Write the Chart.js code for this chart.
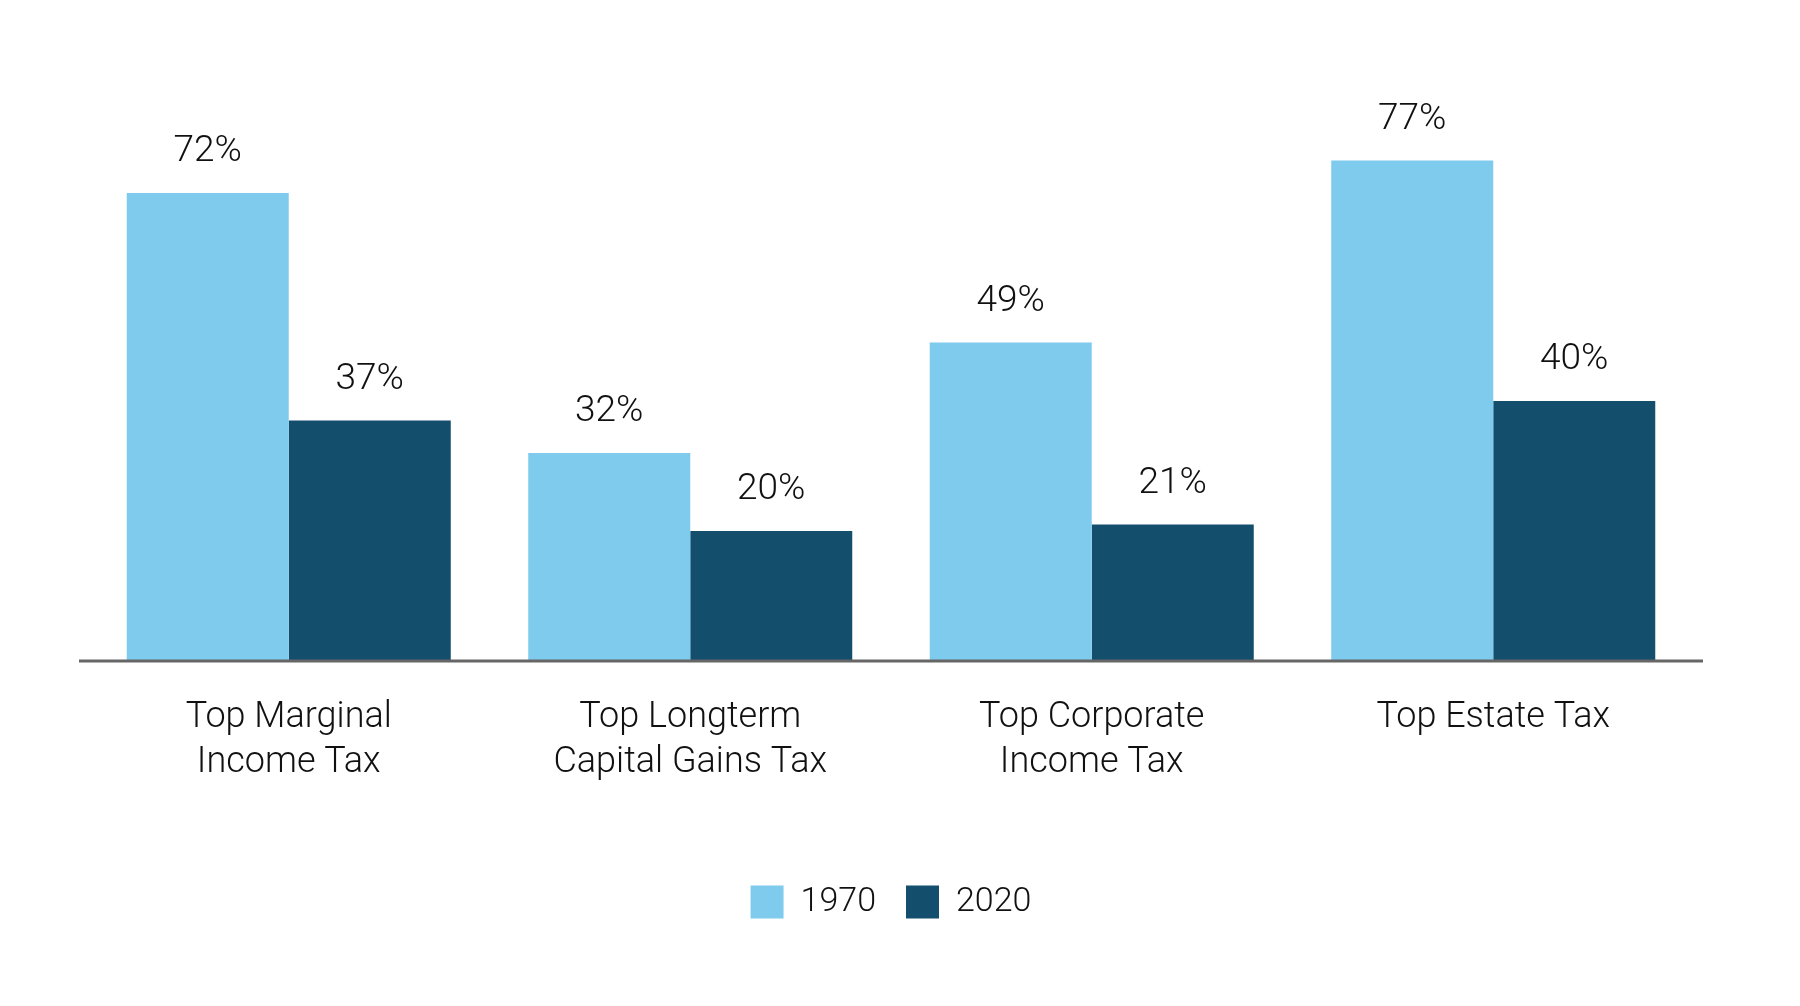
<!DOCTYPE html>
<html>
<head>
<meta charset="utf-8">
<script src="https://cdn.jsdelivr.net/npm/chart.js@4.4.1/dist/chart.umd.min.js"></script>
<style>
  html, body { margin: 0; padding: 0; background: #fff; }
  #wrap { width: 1800px; height: 1006px; position: relative; }
</style>
</head>
<body>
<div id="wrap"><canvas id="chart"></canvas></div>
<script>
const categories = [
  ['Top Marginal', 'Income Tax'],
  ['Top Longterm', 'Capital Gains Tax'],
  ['Top Corporate', 'Income Tax'],
  ['Top Estate Tax'],
];
const seriesNames = ['1970', '2020'];
const values1970 = [72, 32, 49, 77];
const values2020 = [37, 20, 21, 40];

const LIGHT = '#7fcbee';
const DARK = '#134f6d';
const FONT = 'Roboto, "Open Sans", sans-serif';

// value labels above each bar
const valueLabels = {
  id: 'valueLabels',
  afterDatasetsDraw(chart) {
    const { ctx } = chart;
    ctx.save();
    ctx.font = `300 37px ${FONT}`;
    ctx.fillStyle = '#111';
    ctx.textAlign = 'center';
    ctx.textBaseline = 'alphabetic';
    chart.data.datasets.forEach((ds, i) => {
      chart.getDatasetMeta(i).data.forEach((bar, j) => {
        ctx.fillText(ds.data[j] + '%', bar.x, bar.y - 32);
      });
    });
    ctx.restore();
  }
};

// baseline rule, a little wider than the plot area
const baseLine = {
  id: 'baseLine',
  afterDatasetsDraw(chart) {
    const { ctx, chartArea, scales } = chart;
    const y = scales.y.getPixelForValue(0);
    ctx.save();
    ctx.strokeStyle = '#666666';
    ctx.lineWidth = 3;
    ctx.beginPath();
    ctx.moveTo(chartArea.left - 9, y);
    ctx.lineTo(chartArea.right + 9, y);
    ctx.stroke();
    ctx.restore();
  }
};

new Chart(document.getElementById('chart'), {
  type: 'bar',
  data: {
    labels: categories,
    datasets: [
      { label: seriesNames[0], data: values1970, backgroundColor: LIGHT },
      { label: seriesNames[1], data: values2020, backgroundColor: DARK },
    ],
  },
  options: {
    responsive: true, maintainAspectRatio: false, animation: false,
    layout: { padding: { left: 88, right: 106, top: 11, bottom: 77 } },
    datasets: { bar: { barPercentage: 1, categoryPercentage: 0.807, borderWidth: 0 } },
    plugins: {
      legend: {
        position: 'bottom',
        labels: {
          boxWidth: 33, boxHeight: 33, padding: 30, color: '#111',
          font: { family: FONT, size: 34, weight: 300 },
        },
      },
      tooltip: { enabled: false },
    },
    scales: {
      x: {
        grid: { display: false, drawTicks: false },
        border: { display: false },
        ticks: { color: '#111', padding: 34, font: { family: FONT, size: 36, weight: 300, lineHeight: 45 / 36 } },
        afterFit(scale) { scale.height += 36; },
      },
      y: { display: false, min: 0, max: 100 },
    },
  },
  plugins: [valueLabels, baseLine],
});
</script>
</body>
</html>
